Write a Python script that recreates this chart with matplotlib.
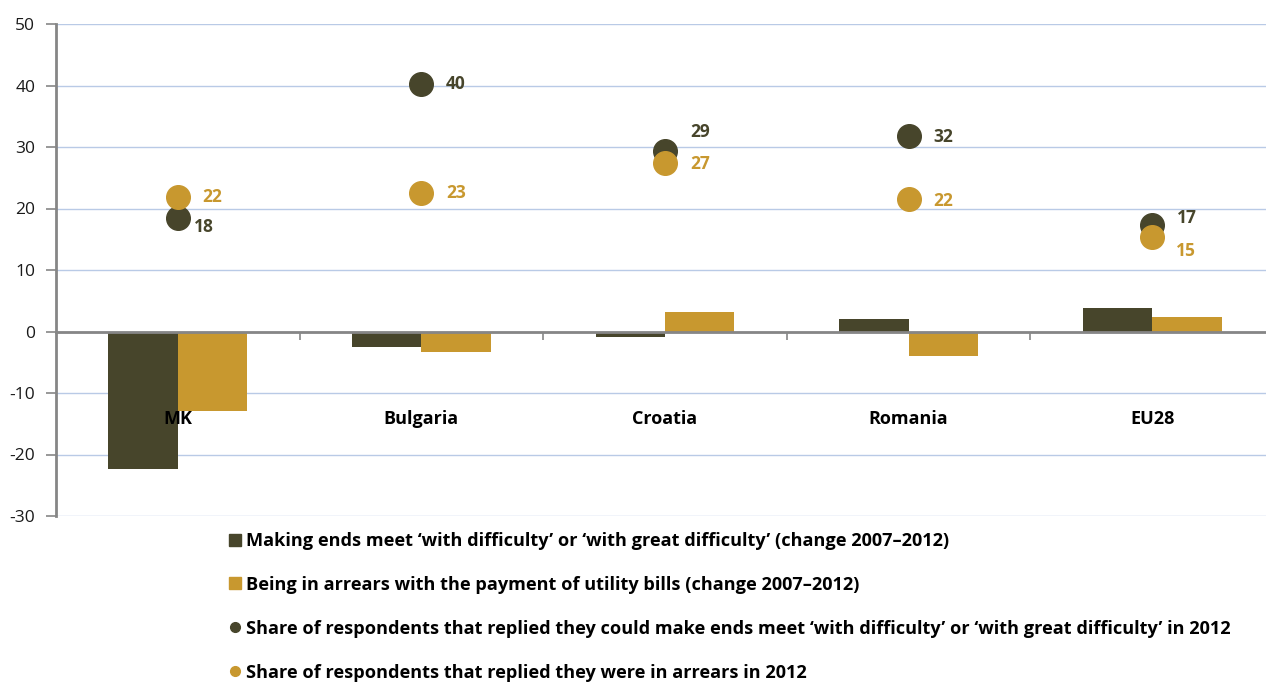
import matplotlib

matplotlib.use("Agg")
import matplotlib.pyplot as plt
from matplotlib.lines import Line2D
import numpy as np

plt.rcParams["font.family"] = ["Open Sans", "DejaVu Sans"]
plt.rcParams["axes.unicode_minus"] = False

PAISES = ["MK", "Bulgaria", "Croatia", "Romania", "EU28"]
CAMBIO_DIFICULTAD = [-22.4, -2.6, -0.95, 2.1, 3.8]
CAMBIO_ATRASOS = [-12.9, -3.3, 3.2, -4.0, 2.4]
CUOTA_DIFICULTAD = [18.4, 40.3, 29.3, 31.8, 17.3]
CUOTA_ATRASOS = [21.9, 22.6, 27.4, 21.5, 15.3]
ETIQUETA_DIFICULTAD = ["18", "40", "29", "32", "17"]
ETIQUETA_ATRASOS = ["22", "23", "27", "22", "15"]

LEYENDA = [
    "Making ends meet \u2018with difficulty\u2019 or \u2018with great difficulty\u2019 (change 2007\u20132012)",
    "Being in arrears with the payment of utility bills (change 2007\u20132012)",
    "Share of respondents that replied they could make ends meet \u2018with difficulty\u2019 or \u2018with great difficulty\u2019 in 2012",
    "Share of respondents that replied they were in arrears in 2012",
]

COLOR_OSCURO = "#47452b"
COLOR_ORO = "#c8982f"
COLOR_REJILLA = "#b9cae6"
COLOR_EJE = "#868686"

# desplazamientos de las etiquetas (puntos)
OFFSET_DIF = [(19, -6), (25, 0), (25, 14), (25, -1), (25, 5)]
OFFSET_ATR = [(25, 0), (25, 0), (25, -1), (25, -1), (24, -10)]

x = np.arange(len(PAISES))
ancho = 0.285

fig = plt.figure(figsize=(12.66, 6.89), dpi=100)
ax = fig.add_axes([56 / 1266, 173 / 689, 1 - 56 / 1266, 492 / 689])

ax.set_ylim(-30, 50)
ax.set_xlim(-0.5, -0.5 + 1210 / 243.6)
ax.set_yticks(np.arange(-30, 51, 10))
ax.grid(axis="y", color=COLOR_REJILLA, linewidth=1.0)
ax.set_axisbelow(True)

ax.bar(x - ancho / 2, CAMBIO_DIFICULTAD, width=ancho, color=COLOR_OSCURO, zorder=2)
ax.bar(x + ancho / 2, CAMBIO_ATRASOS, width=ancho, color=COLOR_ORO, zorder=2)

ax.plot(x, CUOTA_DIFICULTAD, "o", color=COLOR_OSCURO, markersize=17, zorder=3)
ax.plot(x, CUOTA_ATRASOS, "o", color=COLOR_ORO, markersize=17, zorder=4)

for i in range(len(PAISES)):
    ax.annotate(ETIQUETA_DIFICULTAD[i], (x[i], CUOTA_DIFICULTAD[i]),
                xytext=OFFSET_DIF[i], textcoords="offset points",
                ha="center", va="center", fontsize=12.5, fontweight="bold",
                color=COLOR_OSCURO, zorder=5)
    ax.annotate(ETIQUETA_ATRASOS[i], (x[i], CUOTA_ATRASOS[i]),
                xytext=OFFSET_ATR[i], textcoords="offset points",
                ha="center", va="center", fontsize=12.5, fontweight="bold",
                color=COLOR_ORO, zorder=5)
    ax.text(x[i], -14.3, PAISES[i], ha="center", va="center",
            fontsize=13, fontweight="bold", color="black", zorder=5)

for lado in ("top", "right"):
    ax.spines[lado].set_visible(False)
ax.spines["left"].set_color(COLOR_EJE)
ax.spines["left"].set_linewidth(2)
ax.spines["bottom"].set_position(("data", 0))
ax.spines["bottom"].set_color(COLOR_EJE)
ax.spines["bottom"].set_linewidth(2)
ax.spines["bottom"].set_zorder(3)

ax.set_xticks(np.arange(0.5, len(PAISES) - 0.5, 1.0))
ax.tick_params(axis="x", labelbottom=False, length=6, width=1.2, color=COLOR_EJE)
ax.tick_params(axis="y", length=7, width=1.2, color=COLOR_EJE, labelsize=12.5,
               labelcolor="#1a1a1a", pad=8)

manejadores = [
    Line2D([], [], marker="s", linestyle="none", color=COLOR_OSCURO, markersize=8),
    Line2D([], [], marker="s", linestyle="none", color=COLOR_ORO, markersize=8),
    Line2D([], [], marker="o", linestyle="none", color=COLOR_OSCURO, markersize=7),
    Line2D([], [], marker="o", linestyle="none", color=COLOR_ORO, markersize=7),
]
fig.legend(manejadores, LEYENDA, loc="upper left", bbox_to_anchor=(228 / 1266, 1 - 532 / 689),
           frameon=False, prop={"weight": "bold", "size": 13.1}, labelspacing=1.42,
           handlelength=0.8, handletextpad=0.2, borderaxespad=0, borderpad=0)

fig.savefig("out.png", dpi=100, facecolor="white")
